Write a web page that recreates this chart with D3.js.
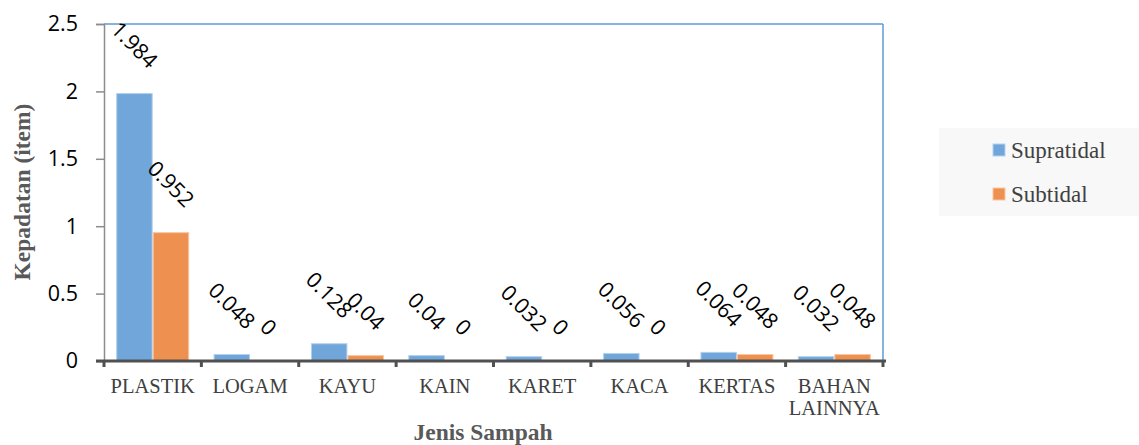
<!DOCTYPE html>
<html>
<head>
<meta charset="utf-8">
<script src="https://cdn.jsdelivr.net/npm/d3@7"></script>
<style>
  html, body { margin: 0; padding: 0; background: #fff; }
  svg { display: block; }
</style>
</head>
<body>
<svg id="chart" width="1139" height="445"></svg>
<script>
// Waste category densities (items) for the two zones
const categories = ["PLASTIK", "LOGAM", "KAYU", "KAIN", "KARET", "KACA", "KERTAS", "BAHAN LAINNYA"];
const seriesNames = ["Supratidal", "Subtidal"];
const supratidal = [1.984, 0.048, 0.128, 0.04, 0.032, 0.056, 0.064, 0.032];
const subtidal   = [0.952, 0, 0.04, 0, 0, 0, 0.048, 0.048];
const yTicks = [0, 0.5, 1, 1.5, 2, 2.5];

const colors = { Supratidal: "#70A6DA", Subtidal: "#EE904F" };
const strokes = { Supratidal: "#B3D1EE", Subtidal: "#F8C6A3" };

const sansFont = "'Open Sans', 'Liberation Sans', sans-serif";
const serifFont = "'Liberation Serif', 'Times New Roman', serif";

const svg = d3.select("#chart");
const plotLeft = 104, plotRight = 883, plotTop = 24, plotBottom = 361;

const x0 = d3.scaleBand().domain(categories).range([plotLeft, plotRight]).paddingInner(0).paddingOuter(0);
const x1 = d3.scaleBand().domain(seriesNames).range([0, x0.bandwidth()]).paddingInner(0).paddingOuter(0.334);
const y = d3.scaleLinear().domain([0, 2.5]).range([plotBottom, plotTop]);

const rows = categories.map((c, i) => ({
  category: c,
  values: [
    { name: "Supratidal", value: supratidal[i] },
    { name: "Subtidal", value: subtidal[i] }
  ]
}));

// Plot frame: blue top and right border
svg.append("line").attr("x1", plotLeft).attr("x2", plotRight).attr("y1", plotTop).attr("y2", plotTop)
  .attr("stroke", "#5B9BD5").attr("stroke-width", 1.5);
svg.append("line").attr("x1", plotRight).attr("x2", plotRight).attr("y1", plotTop).attr("y2", plotBottom)
  .attr("stroke", "#5B9BD5").attr("stroke-width", 1.5);

// Y axis
const yAxis = d3.axisLeft(y).tickValues(yTicks).tickSize(8).tickPadding(18)
  .tickFormat(d => String(d));
const gy = svg.append("g").attr("transform", `translate(${plotLeft},0)`).call(yAxis);
gy.select(".domain").attr("stroke", "#8C8C8C").attr("stroke-width", 1.5);
gy.selectAll(".tick line").attr("stroke", "#8C8C8C").attr("stroke-width", 1.5);
gy.selectAll(".tick text").attr("font-family", sansFont)
  .attr("font-size", 21.5).attr("fill", "#000");

// Bars
const groups = svg.append("g").selectAll("g").data(rows).join("g")
  .attr("transform", d => `translate(${x0(d.category)},0)`);

groups.selectAll("rect").data(d => d.values).join("rect")
  .attr("x", d => x1(d.name) + 0.5)
  .attr("width", x1.bandwidth() - 1)
  .attr("y", d => y(d.value))
  .attr("height", d => plotBottom - y(d.value))
  .attr("fill", d => colors[d.name])
  .attr("stroke", d => strokes[d.name])
  .attr("stroke-width", 1);

// X axis line and category boundary ticks
svg.append("line").attr("x1", plotLeft - 8).attr("x2", plotRight + 3).attr("y1", plotBottom).attr("y2", plotBottom)
  .attr("stroke", "#505050").attr("stroke-width", 3);
const boundaries = categories.map(c => x0(c)).concat([plotRight]);
svg.append("g").selectAll("line").data(boundaries).join("line")
  .attr("x1", d => d).attr("x2", d => d)
  .attr("y1", plotBottom).attr("y2", plotBottom + 6)
  .attr("stroke", "#505050").attr("stroke-width", 3);

// Category labels (serif, wrapped onto two lines where needed)
const catG = svg.append("g").selectAll("text").data(categories).join("text")
  .attr("x", d => x0(d) + x0.bandwidth() / 2)
  .attr("y", 393)
  .attr("text-anchor", "middle")
  .attr("font-family", serifFont)
  .attr("font-size", 20.5)
  .attr("fill", "#404040");
catG.each(function(d) {
  const words = d.split(" ");
  const t = d3.select(this);
  if (words.length > 1) {
    words.forEach((w, i) => {
      t.append("tspan").attr("x", x0(d) + x0.bandwidth() / 2).attr("dy", i === 0 ? 0 : 22).text(w);
    });
  } else {
    t.text(d);
  }
});

// Data value labels, rotated 45 degrees above each bar
const labelG = svg.append("g");
rows.forEach(r => {
  r.values.forEach(v => {
    const cx = x0(r.category) + x1(v.name) + x1.bandwidth() / 2;
    const t = labelG.append("text")
      .attr("text-anchor", "middle")
      .attr("font-family", sansFont)
      .attr("font-size", 21.5)
      .attr("fill", "#000")
      .text(String(v.value));
    const L = t.node().getComputedTextLength();
    const half = (L + 15) * Math.SQRT1_2 / 2;
    const cy = y(v.value) - 24 - half;
    t.attr("transform", `translate(${cx},${cy}) rotate(45)`).attr("dy", "0.35em");
  });
});

// Axis titles
svg.append("text")
  .attr("transform", `translate(30,192) rotate(-90)`)
  .attr("text-anchor", "middle")
  .attr("font-family", serifFont)
  .attr("font-weight", "bold")
  .attr("font-size", 23.5)
  .attr("fill", "#595959")
  .text("Kepadatan (item)");

svg.append("text")
  .attr("x", 483).attr("y", 440)
  .attr("text-anchor", "middle")
  .attr("font-family", serifFont)
  .attr("font-weight", "bold")
  .attr("font-size", 23.5)
  .attr("fill", "#595959")
  .text("Jenis Sampah");

// Legend
const legend = svg.append("g");
legend.append("rect").attr("x", 939).attr("y", 128).attr("width", 200).attr("height", 88)
  .attr("fill", "#F8F8F8");
seriesNames.forEach((s, i) => {
  const ly = 150 + i * 44;
  legend.append("rect").attr("x", 993).attr("y", ly - 6).attr("width", 12).attr("height", 12)
    .attr("fill", colors[s]).attr("stroke", strokes[s]).attr("stroke-width", 1);
  legend.append("text").attr("x", 1011).attr("y", ly + 8)
    .attr("font-family", serifFont)
    .attr("font-size", 23).attr("fill", "#404040")
    .text(s);
});
</script>
</body>
</html>
